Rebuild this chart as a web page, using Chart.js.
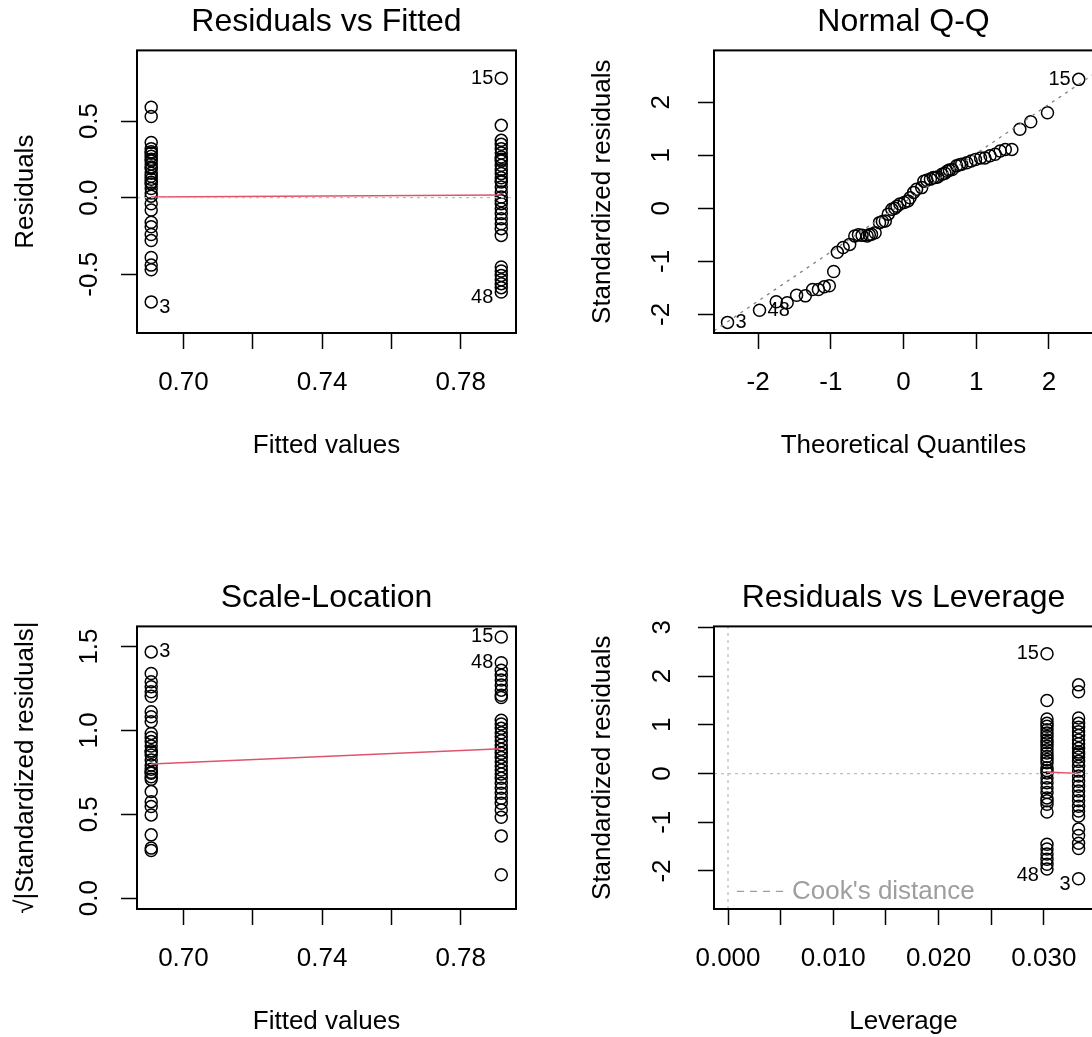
<!DOCTYPE html>
<html>
<head>
<meta charset="utf-8">
<script src="https://cdn.jsdelivr.net/npm/chart.js@4.4.0/dist/chart.umd.min.js"></script>
<style>
  html, body { margin: 0; padding: 0; background: #fff; overflow: hidden; width: 1092px; height: 1037px; }
  .panel { position: absolute; width: 577px; height: 576px; }
</style>
</head>
<body>
<div class="panel" style="left:0;top:0"><canvas id="rvf" width="577" height="576"></canvas></div>
<div class="panel" style="left:577px;top:0"><canvas id="qq" width="577" height="576"></canvas></div>
<div class="panel" style="left:0;top:576px"><canvas id="sl" width="577" height="576"></canvas></div>
<div class="panel" style="left:577px;top:576px"><canvas id="rvl" width="577" height="576"></canvas></div>
<script>
// ---- data ----
// fitted values of the two groups (left / right column)
const fittedLow = 0.6907;
const fittedHigh = 0.7917;
// leverage of the two groups
const levHigh = 0.0303;  // same group as fittedHigh
const levLow = 0.0333;   // same group as fittedLow

// Residuals vs Fitted
const residLow = [0.59, 0.53, 0.36, 0.32, 0.30, 0.29, 0.27, 0.25, 0.24, 0.22, 0.20, 0.19, 0.16, 0.14, 0.12,
  0.10, 0.09, 0.06, 0.03, 0.01, -0.04, -0.08, -0.16, -0.19, -0.24, -0.28, -0.39, -0.44, -0.47, -0.68];
const residHigh = [0.78, 0.472, 0.374, 0.348, 0.320, 0.291, 0.265, 0.25, 0.239, 0.211, 0.183, 0.157, 0.130,
  0.11, 0.102, 0.070, 0.037, 0.004, -0.02, -0.039, -0.072, -0.104, -0.137, -0.170, -0.202, -0.246,
  -0.452, -0.478, -0.507, -0.535, -0.561, -0.587, -0.615];
const rvfSmooth = [0.005, 0.018];

// Normal Q-Q
const qqTheo = [-2.42, -1.98, -1.75, -1.60, -1.47, -1.35, -1.25, -1.17, -1.09, -1.02, -0.96, -0.91, -0.83,
  -0.74, -0.67, -0.62, -0.57, -0.50, -0.47, -0.44, -0.39, -0.33, -0.29, -0.25, -0.21, -0.16, -0.12, -0.09,
  -0.05, 0.01, 0.06, 0.09, 0.14, 0.18, 0.25, 0.28, 0.32, 0.37, 0.41, 0.44, 0.47, 0.53, 0.57, 0.60, 0.63,
  0.67, 0.73, 0.77, 0.80, 0.87, 0.93, 0.99, 1.06, 1.12, 1.19, 1.26, 1.33, 1.40, 1.49, 1.60, 1.75, 1.98, 2.41];
const qqStd = [-2.15, -1.92, -1.76, -1.78, -1.64, -1.65, -1.53, -1.53, -1.48, -1.46, -1.19, -0.83, -0.74,
  -0.68, -0.52, -0.50, -0.51, -0.52, -0.50, -0.49, -0.46, -0.27, -0.25, -0.24, -0.11, -0.02, 0.00, 0.04,
  0.08, 0.11, 0.14, 0.20, 0.30, 0.36, 0.39, 0.51, 0.53, 0.55, 0.58, 0.58, 0.59, 0.64, 0.66, 0.70, 0.72,
  0.73, 0.80, 0.82, 0.83, 0.86, 0.89, 0.92, 0.95, 0.95, 0.99, 1.02, 1.08, 1.11, 1.11, 1.49, 1.63, 1.80, 2.43];
const qqLineX = [-2.606, 2.606];
const qqLineY = [-2.31, 2.52];

// Scale-Location
const sqrtStdLow = [1.468, 1.339, 1.29, 1.26, 1.23, 1.204, 1.111, 1.081, 1.052, 0.982, 0.958, 0.933, 0.907,
  0.879, 0.87, 0.853, 0.823, 0.794, 0.768, 0.75, 0.744, 0.724, 0.708, 0.635, 0.575, 0.546, 0.496, 0.377,
  0.298, 0.284];
const sqrtStdHigh = [1.557, 1.403, 1.359, 1.329, 1.30, 1.27, 1.24, 1.21, 1.196, 1.061, 1.038, 1.012, 0.986,
  0.962, 0.938, 0.913, 0.887, 0.863, 0.839, 0.813, 0.788, 0.764, 0.740, 0.714, 0.685, 0.655, 0.625, 0.595,
  0.565, 0.526, 0.482, 0.371, 0.139];
const slSmooth = [0.80, 0.89];

// Residuals vs Leverage
const stdHigh = [2.46, 1.50, 1.12, 1.03, 0.97, 0.90, 0.83, 0.76, 0.69, 0.63, 0.56, 0.49, 0.42, 0.35, 0.29,
  0.22, 0.12, 0.06, 0.01, -0.09, -0.19, -0.29, -0.39, -0.50, -0.56, -0.63, -0.79, -1.45, -1.55, -1.65,
  -1.76, -1.86, -1.96];
const stdLow = [1.82, 1.68, 1.14, 1.03, 0.95, 0.86, 0.78, 0.69, 0.61, 0.52, 0.44, 0.40, 0.34, 0.25, 0.15,
  0.05, -0.05, -0.16, -0.26, -0.36, -0.46, -0.56, -0.67, -0.77, -0.87, -1.14, -1.27, -1.43, -1.54, -2.16];
const rvlSmooth = [0.03, 0.0];

// axis ranges and ticks
const fitRange = [0.6866, 0.79595];
const fitTicks = [0.70, 0.72, 0.74, 0.76, 0.78];
const fitLabels = ['0.70', '', '0.74', '', '0.78'];
const rvfRange = [-0.883, 0.961];
const rvfTicks = [-0.5, 0.0, 0.5];
const rvfLabels = ['-0.5', '0.0', '0.5'];
const qqXRange = [-2.606, 2.606];
const qqYRange = [-2.35, 2.976];
const qqTicks = [-2, -1, 0, 1, 2];
const qqLabels = ['-2', '-1', '0', '1', '2'];
const slRange = [-0.065, 1.62];
const slTicks = [0.0, 0.5, 1.0, 1.5];
const slLabels = ['0.0', '0.5', '1.0', '1.5'];
const levRange = [-0.00133, 0.03467];
const levTicks = [0, 0.005, 0.010, 0.015, 0.020, 0.025, 0.030];
const levLabels = ['0.000', '', '0.010', '', '0.020', '', '0.030'];
const rvlRange = [-2.78, 3.02];
const rvlTicks = [-2, -1, 0, 1, 2, 3];
const rvlLabels = ['-2', '-1', '0', '1', '2', '3'];

const FAMILY = '"Liberation Sans", Arial, Helvetica, sans-serif';
const RED = '#DF536B';

const boxPlugin = {
  id: 'frameBox',
  afterDraw(chart) {
    const a = chart.chartArea, ctx = chart.ctx;
    ctx.save();
    ctx.strokeStyle = '#000';
    ctx.lineWidth = 2;
    ctx.strokeRect(a.left, a.top, a.right - a.left, a.bottom - a.top);
    ctx.restore();
  }
};

// observation numbers next to the most extreme points
const idPlugin = {
  id: 'idLabels',
  afterDatasetsDraw(chart, args, opts) {
    if (!opts.items) return;
    const a = chart.chartArea, ctx = chart.ctx;
    const mid = (a.left + a.right) / 2;
    ctx.save();
    ctx.font = '20px ' + FAMILY;
    ctx.fillStyle = '#000';
    ctx.textBaseline = 'middle';
    opts.items.forEach(it => {
      const pt = chart.getDatasetMeta(it[0]).data[it[1]];
      const val = chart.data.datasets[it[0]].data[it[1]].y;
      const y = pt.y + (opts.dropNegative && val < 0 ? 6 : 0);
      if (pt.x > mid) {
        ctx.textAlign = 'right';
        ctx.fillText(it[2], pt.x - 8, y);
      } else {
        ctx.textAlign = 'left';
        ctx.fillText(it[2], pt.x + 8, y);
      }
    });
    ctx.restore();
  }
};

const cookPlugin = {
  id: 'cookLegend',
  afterDraw(chart, args, opts) {
    if (!opts.show) return;
    const a = chart.chartArea, ctx = chart.ctx;
    const y = a.bottom - 17.6;
    ctx.save();
    ctx.strokeStyle = '#9E9E9E';
    ctx.lineWidth = 1.3;
    ctx.setLineDash([7, 6]);
    ctx.beginPath();
    ctx.moveTo(a.left + 23, y);
    ctx.lineTo(a.left + 72, y);
    ctx.stroke();
    ctx.fillStyle = '#9E9E9E';
    ctx.font = '26px ' + FAMILY;
    ctx.textBaseline = 'middle';
    ctx.textAlign = 'left';
    ctx.fillText("Cook's distance", a.left + 78, y);
    ctx.restore();
  }
};

function points(xs, ys) {
  return ys.map((y, i) => ({ x: Array.isArray(xs) ? xs[i] : xs, y: y }));
}

function pointSet(data) {
  return {
    data: data, showLine: false, order: 1,
    pointRadius: 6, pointHoverRadius: 6,
    pointBorderColor: '#000', pointBackgroundColor: 'rgba(0,0,0,0)', pointBorderWidth: 1.5
  };
}

function lineSet(data, color, dash, width) {
  return {
    data: data, showLine: true, order: 0, pointRadius: 0,
    borderColor: color, borderWidth: width || 1.3, borderDash: dash || [], fill: false
  };
}

function makeChart(id, cfg) {
  const font = { family: FAMILY, size: 26 };
  const grid = { drawOnChartArea: false, drawTicks: true, tickLength: 16, tickColor: '#000', tickWidth: 1.5, color: '#000' };
  new Chart(document.getElementById(id), {
    type: 'scatter',
    data: { datasets: cfg.datasets },
    plugins: [boxPlugin, idPlugin, cookPlugin],
    options: {
      responsive: false,
      animation: false,
      layout: { padding: { left: 0, top: 0, right: 61, bottom: 0 } },
      plugins: {
        legend: { display: false },
        tooltip: { enabled: false },
        title: {
          display: true, text: cfg.title, fullSize: false, color: '#000',
          font: { family: FAMILY, size: 32, weight: 'normal' },
          padding: { top: 3, bottom: 9 }
        },
        idLabels: { items: cfg.ids, dropNegative: cfg.dropNegative },
        cookLegend: { show: !!cfg.cook }
      },
      scales: {
        x: {
          type: 'linear', min: cfg.xRange[0], max: cfg.xRange[1],
          afterBuildTicks: s => { s.ticks = cfg.xTicks.map(v => ({ value: v })); },
          afterFit: s => { s.height = 243; },
          ticks: {
            autoSkip: false, minRotation: 0, maxRotation: 0, padding: 18, color: '#000', font: font,
            callback: (v, i) => cfg.xLabels[i]
          },
          grid: grid,
          border: { display: false },
          title: { display: true, text: cfg.xTitle, color: '#000', font: font, padding: { top: 0, bottom: 115 } }
        },
        y: {
          type: 'linear', min: cfg.yRange[0], max: cfg.yRange[1],
          afterBuildTicks: s => { s.ticks = cfg.yTicks.map(v => ({ value: v })); },
          afterFit: s => { s.width = 137; },
          ticks: {
            autoSkip: false, minRotation: 90, maxRotation: 90, crossAlign: 'center',
            padding: cfg.yPad, color: '#000', font: font,
            callback: (v, i) => cfg.yLabels[i]
          },
          grid: grid,
          border: { display: false },
          title: { display: true, text: cfg.yTitle, color: '#000', font: font, padding: { top: 10, bottom: 0 } }
        }
      }
    }
  });
}

// Residuals vs Fitted
makeChart('rvf', {
  title: 'Residuals vs Fitted', xTitle: 'Fitted values', yTitle: 'Residuals',
  xRange: fitRange, yRange: rvfRange, xTicks: fitTicks, xLabels: fitLabels,
  yTicks: rvfTicks, yLabels: rvfLabels, yPad: 8.6, dropNegative: true,
  datasets: [
    pointSet(points(fittedLow, residLow)),
    pointSet(points(fittedHigh, residHigh)),
    lineSet(points(fitRange, [0, 0]), '#BEBEBE', [3, 4]),
    lineSet(points([fittedLow, fittedHigh], rvfSmooth), RED, [], 1.5)
  ],
  ids: [[0, 29, '3'], [1, 0, '15'], [1, 32, '48']]
});

// Normal Q-Q
makeChart('qq', {
  title: 'Normal Q-Q', xTitle: 'Theoretical Quantiles', yTitle: 'Standardized residuals',
  xRange: qqXRange, yRange: qqYRange, xTicks: qqTicks, xLabels: qqLabels,
  yTicks: qqTicks, yLabels: qqLabels, yPad: 25, dropNegative: false,
  datasets: [
    pointSet(points(qqTheo, qqStd)),
    lineSet(points(qqLineX, qqLineY), '#808080', [3, 5])
  ],
  ids: [[0, 0, '3'], [0, 1, '48'], [0, 62, '15']]
});

// Scale-Location
makeChart('sl', {
  title: 'Scale-Location', xTitle: 'Fitted values', yTitle: '\u221A|Standardized residuals|',
  xRange: fitRange, yRange: slRange, xTicks: fitTicks, xLabels: fitLabels,
  yTicks: slTicks, yLabels: slLabels, yPad: 13, dropNegative: false,
  datasets: [
    pointSet(points(fittedLow, sqrtStdLow)),
    pointSet(points(fittedHigh, sqrtStdHigh)),
    lineSet(points([fittedLow, fittedHigh], slSmooth), RED, [], 1.5)
  ],
  ids: [[0, 0, '3'], [1, 0, '15'], [1, 1, '48']]
});

// Residuals vs Leverage
makeChart('rvl', {
  title: 'Residuals vs Leverage', xTitle: 'Leverage', yTitle: 'Standardized residuals',
  xRange: levRange, yRange: rvlRange, xTicks: levTicks, xLabels: levLabels,
  yTicks: rvlTicks, yLabels: rvlLabels, yPad: 23.5, dropNegative: true, cook: true,
  datasets: [
    pointSet(points(levHigh, stdHigh)),
    pointSet(points(levLow, stdLow)),
    lineSet(points(levRange, [0, 0]), '#BEBEBE', [3, 4]),
    lineSet(points([0, 0], rvlRange), '#BEBEBE', [3, 4]),
    lineSet(points([levHigh, levLow], rvlSmooth), RED, [], 1.5)
  ],
  ids: [[0, 0, '15'], [0, 32, '48'], [1, 29, '3']]
});
</script>
</body>
</html>
